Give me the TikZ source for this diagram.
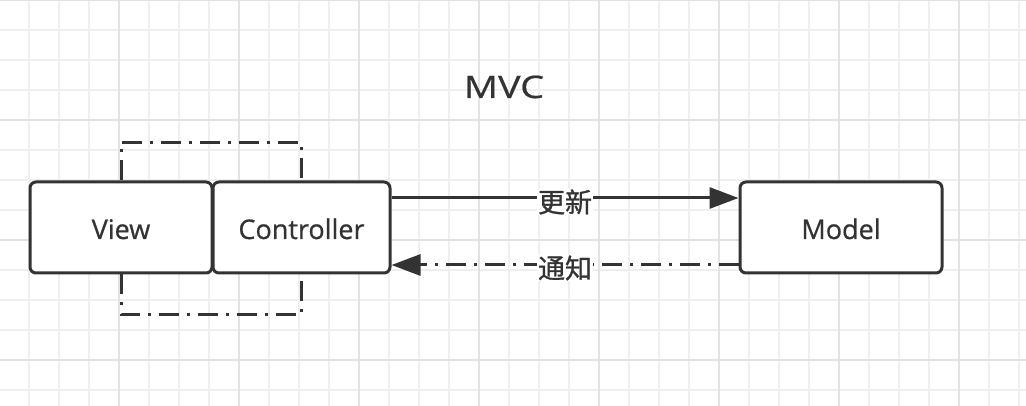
\documentclass[tikz,border=0pt]{standalone}
\usepackage{fontspec}
\newfontfamily\lblfont[FakeBold=0.7]{Open Sans}
\newfontfamily\titlefont[FakeBold=0.7,FakeStretch=1.22]{Open Sans}
\newfontfamily\cjk[FakeBold=1.0]{Noto Sans CJK SC}
\usetikzlibrary{arrows.meta}
\definecolor{minorgrid}{HTML}{EFEFEF}
\definecolor{majorgrid}{HTML}{E2E2E2}
\definecolor{ink}{HTML}{333333}
\begin{document}
\begin{tikzpicture}[x=1pt,y=-1pt,
  box/.style={draw=ink, line width=3pt, rounded corners=6pt, fill=white,
    text=ink, font=\lblfont\fontsize{27}{30}\selectfont, minimum height=91pt,
    text height=23pt, text depth=0pt},
  dashdot/.style={draw=ink, line width=3pt, dash pattern=on 20pt off 8pt on 3pt off 8pt},
  conn/.style={draw=ink, line width=3pt},
  tip/.style={-{Triangle[length=29pt,width=21pt]}},
  cnlabel/.style={fill=white, inner sep=1pt, text=ink, font=\cjk\fontsize{27}{29}\selectfont}]
\fill[white] (0,0) rectangle (1026,406);
\useasboundingbox (0,0) rectangle (1026,406);
% grid
\foreach \k in {1,...,34} {\draw[minorgrid, line width=1.5pt] (30*\k-1,0) -- (30*\k-1,406);}
\foreach \k in {0,...,13} {\draw[minorgrid, line width=1.5pt] (0,30*\k) -- (1026,30*\k);}
\foreach \k in {1,...,8} {\draw[majorgrid, line width=1.5pt] (120*\k-1,0) -- (120*\k-1,406);}
\foreach \k in {0,...,3} {\draw[majorgrid, line width=1.5pt] (0,120*\k) -- (1026,120*\k);}
% title
\node[text=ink, font=\titlefont\fontsize{31}{36}\selectfont, text height=22pt, text depth=0pt] (title) at (504,87) {MVC};
% boxes
\node[box, minimum width=182pt] (view) at (121,227.5) {View};
\node[box, minimum width=177pt] (ctrl) at (301.5,227.5) {Controller};
\node[box, minimum width=202pt] (model) at (841,227.5) {Model};
% view-controller loops
\draw[dashdot] (view.north) -- ++(0,-38) -| (ctrl.north);
\draw[dashdot] (view.south) -- ++(0,40) -| (ctrl.south);
% arrows
\draw[conn, tip] ([yshift=29.5pt]ctrl.east) -- ([yshift=29.5pt]model.west)
  node[cnlabel, midway, yshift=-4pt] (upd) {更新};
\draw[conn, dashdot, tip] ([yshift=-37.5pt]model.west) -- ([yshift=-37.5pt]ctrl.east)
  node[cnlabel, midway, yshift=-3pt] (ntf) {通知};
\end{tikzpicture}
\end{document}
